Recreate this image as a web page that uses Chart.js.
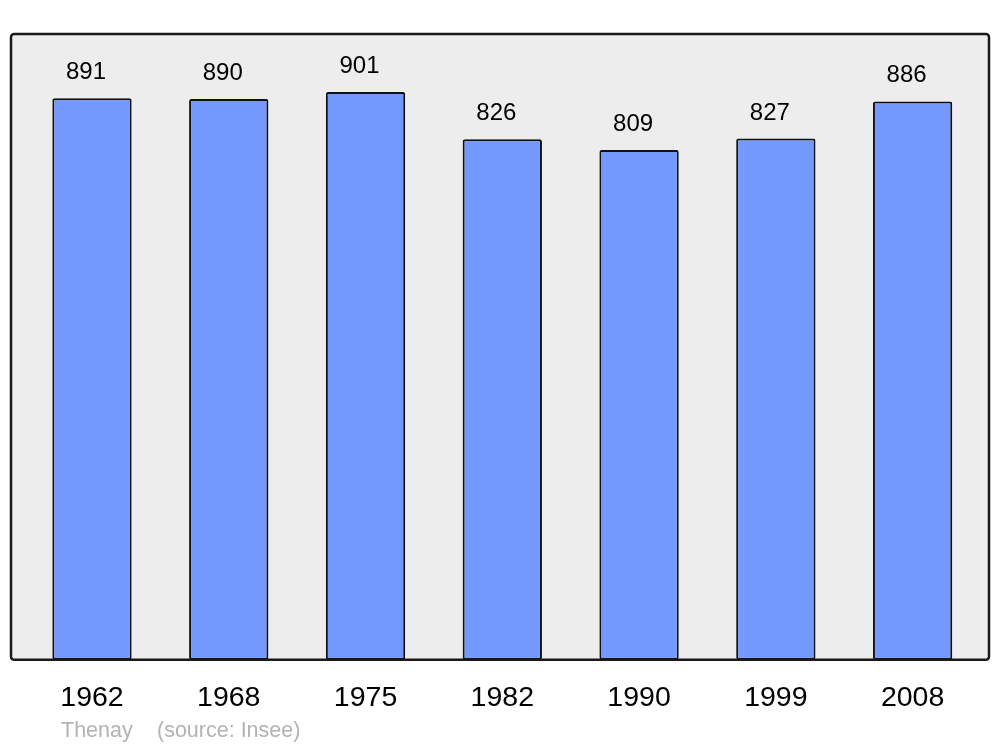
<!DOCTYPE html>
<html>
<head>
<meta charset="utf-8">
<script src="https://cdn.jsdelivr.net/npm/chart.js@4"></script>
<style>
  html, body { margin: 0; padding: 0; background: #fff; }
  #wrap { width: 1000px; height: 747px; }
</style>
</head>
<body>
<div id="wrap"><canvas id="chart" width="1000" height="747"></canvas></div>
<script>
const years = ["1962", "1968", "1975", "1982", "1990", "1999", "2008"];
const population = [891, 890, 901, 826, 809, 827, 886];
const commune = "Thenay";
const source = "(source: Insee)";

// grey frame behind the bars, a bit wider than the category area
const frame = {
    id: "frame",
    beforeDraw(chart) {
        const { ctx, chartArea: a } = chart;
        const x0 = a.left - 12.6, x1 = a.right + 8;
        ctx.save();
        ctx.beginPath();
        ctx.roundRect(x0, a.top, x1 - x0, a.bottom - a.top, 3);
        ctx.fillStyle = "#ededed";
        ctx.fill();
        ctx.restore();
    },
    afterDatasetsDraw(chart) {
        const { ctx, chartArea: a } = chart;
        const x0 = a.left - 12.6, x1 = a.right + 8;
        ctx.save();
        ctx.beginPath();
        ctx.roundRect(x0, a.top, x1 - x0, a.bottom - a.top, 3);
        ctx.lineWidth = 2.5;
        ctx.strokeStyle = "#1a1a1a";
        ctx.stroke();

        // value labels above bars
        ctx.fillStyle = "#000";
        ctx.font = "24px 'Liberation Sans', Arial, sans-serif";
        ctx.textAlign = "center";
        ctx.textBaseline = "alphabetic";
        chart.getDatasetMeta(0).data.forEach((bar, i) => {
            ctx.fillText(String(population[i]), bar.x - 6, bar.y - 19);
        });

        // footer
        ctx.fillStyle = "#b3b3b3";
        ctx.font = "21.5px 'Liberation Sans', Arial, sans-serif";
        ctx.textAlign = "left";
        ctx.fillText(commune, 61, 737);
        ctx.fillText(source, 157, 737);
        ctx.restore();
    }
};

new Chart(document.getElementById("chart"), {
    type: "bar",
    data: {
        labels: years,
        datasets: [{
            data: population,
            backgroundColor: "#7399ff",
            borderColor: "#111",
            borderWidth: 2,
            borderRadius: 2,
            borderSkipped: false,
            barPercentage: 0.58,
            categoryPercentage: 1
        }]
    },
    options: {
        responsive: false,
        animation: false,
        layout: { padding: { left: 23.6, right: 19, top: 34, bottom: 19 } },
        plugins: { legend: { display: false }, tooltip: { enabled: false } },
        scales: {
            x: {
                grid: { display: false },
                border: { display: false },
                ticks: {
                    color: "#000",
                    padding: 13,
                    font: { size: 28.5, family: "'Liberation Sans', Arial, sans-serif" }
                }
            },
            y: { display: false, min: 0, max: 993 }
        }
    },
    plugins: [frame]
});
</script>
</body>
</html>
